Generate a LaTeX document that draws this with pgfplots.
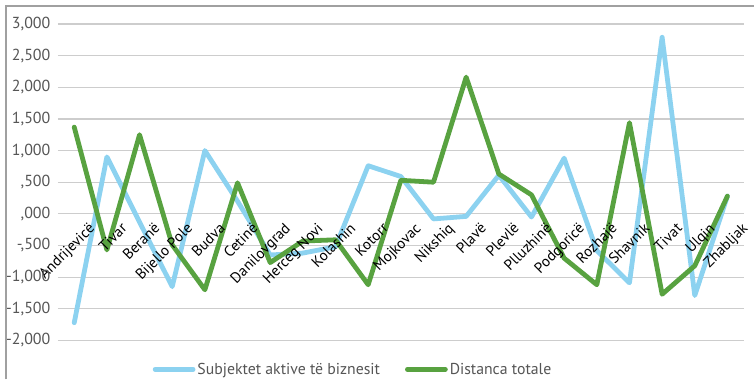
\documentclass[border=0pt]{standalone}
\usepackage{fontspec}
\setmainfont{PT Sans}
\usepackage{pgfplots}
\pgfplotsset{compat=1.18}
\definecolor{skyb}{RGB}{140,210,240}
\definecolor{grn}{RGB}{88,162,64}
\definecolor{gridc}{RGB}{205,205,205}
\definecolor{tickc}{RGB}{85,85,85}
\definecolor{bordc}{RGB}{160,160,160}
\begin{document}
\begin{tikzpicture}[x=1pt,y=1pt]
\path (0,0) rectangle (755,380);
\draw[bordc,line width=2.5pt] (6,0) -- (6,374) -- (755,374);
\begin{axis}[
  set layers,
  at={(58pt,39pt)}, anchor=south west,
  scale only axis, width=687pt, height=317pt,
  xmin=-0.5, xmax=20.5, ymin=-2, ymax=3,
  axis x line=middle, axis y line=left,
  x axis line style={draw=none},
  y axis line style={draw=none},
  major tick length=0pt,
  ymajorgrids, grid style={gridc, line width=1.2pt},
  ytick={-2,-1.5,-1,-0.5,0,0.5,1,1.5,2,2.5,3},
  yticklabels={-2{,}000,-1{,}500,-1{,}000,-{,}500,{,}000,{,}500,1{,}000,1{,}500,2{,}000,2{,}500,3{,}000},
  yticklabel style={font=\fontsize{16}{18}\selectfont, text=tickc, xshift=-4pt},
  xtick={0,...,20},
  xticklabels={Andrijevicë,Tivar,Beranë,Bijello Pole,Budva,Cetinë,Danilovgrad,Herceg Novi,Kolashin,Kotorr,Mojkovac,Nikshiq,Plavë,Plevlë,Plluzhinë,Podgoricë,Rozhajë,Shavnik,Tivat,Ulqin,Zhabljak},
  xticklabel style={font=\fontsize{15}{17}\selectfont, rotate=45, anchor=north east, inner sep=1pt, xshift=5pt, yshift=-14pt},
  clip=false,
  legend columns=2,
  legend style={at={(0.138,-0.0915)}, anchor=west, draw=none, fill=none, inner sep=0pt,
    font=\fontsize{15.8}{17}\selectfont, text=tickc,
    /tikz/every even column/.style={column sep=23pt}},
  legend image code/.code={\draw[#1] (0pt,0pt) -- (38pt,0pt);},
  every axis plot/.append style={line width=4.8pt, line join=round, line cap=round, mark=none},
]
\addplot[skyb, on layer=axis ticks] coordinates {
(0,-1.72) (1,0.90) (2,-0.13) (3,-1.15) (4,1.00) (5,0.20) (6,-0.65) (7,-0.62) (8,-0.52) (9,0.76) (10,0.59) (11,-0.08) (12,-0.04) (13,0.61) (14,-0.05) (15,0.88) (16,-0.58) (17,-1.09) (18,2.79) (19,-1.29) (20,0.28)};
\addlegendentry{Subjektet aktive të biznesit}
\addplot[grn, on layer=axis ticks] coordinates {
(0,1.37) (1,-0.57) (2,1.25) (3,-0.49) (4,-1.20) (5,0.49) (6,-0.77) (7,-0.43) (8,-0.41) (9,-1.12) (10,0.53) (11,0.50) (12,2.16) (13,0.63) (14,0.30) (15,-0.70) (16,-1.12) (17,1.44) (18,-1.27) (19,-0.82) (20,0.28)};
\addlegendentry{Distanca totale}
\end{axis}
\end{tikzpicture}
\end{document}
